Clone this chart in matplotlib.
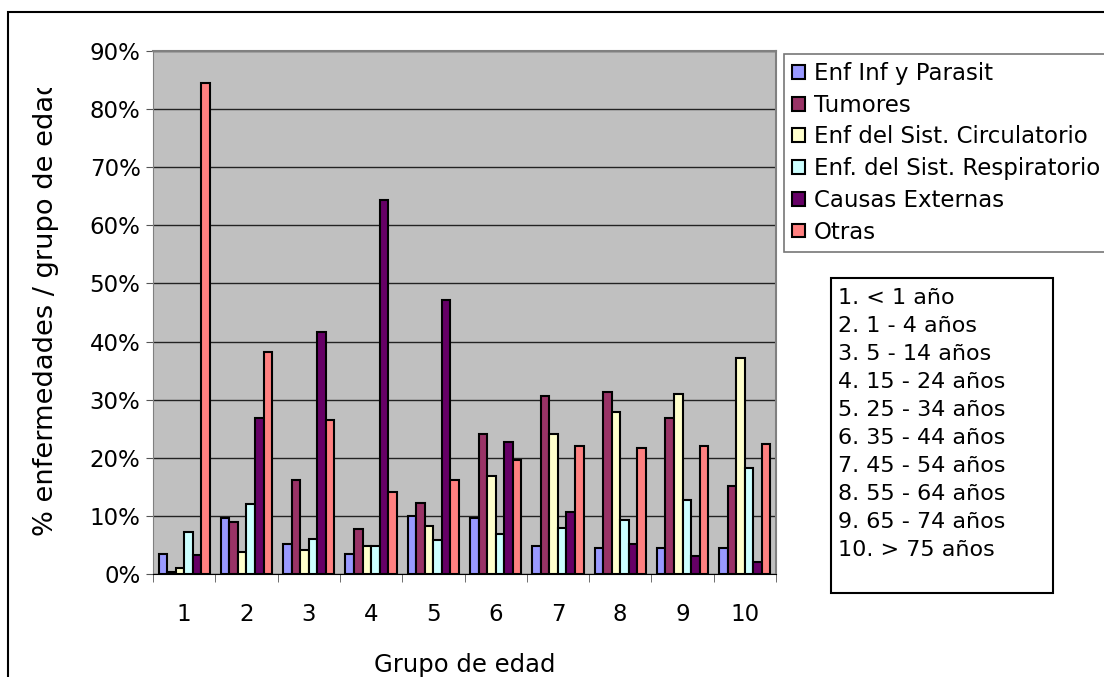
import matplotlib
matplotlib.use("Agg")
import matplotlib.pyplot as plt
import numpy as np
from matplotlib.patches import Patch, Rectangle
from matplotlib.transforms import Bbox
from matplotlib.ticker import FixedLocator, PercentFormatter

# Porcentaje de cada grupo de causas dentro de cada grupo de edad
GROUPS = ["1", "2", "3", "4", "5", "6", "7", "8", "9", "10"]
SERIES = [
    "Enf Inf y Parasit",
    "Tumores",
    "Enf del Sist. Circulatorio",
    "Enf. del Sist. Respiratorio",
    "Causas Externas",
    "Otras",
]
inf_parasit = [3.5, 9.7, 5.1, 3.4, 10.0, 9.7, 4.8, 4.5, 4.5, 4.5]
tumores = [0.3, 8.9, 16.1, 7.8, 12.3, 24.1, 30.6, 31.3, 26.9, 15.1]
circulatorio = [1.0, 3.7, 4.1, 4.9, 8.2, 16.9, 24.1, 27.9, 31.0, 37.2]
respiratorio = [7.2, 12.0, 6.1, 4.9, 5.8, 6.9, 7.9, 9.3, 12.7, 18.3]
externas = [3.3, 26.8, 41.6, 64.4, 47.2, 22.7, 10.6, 5.2, 3.1, 2.0]
otras = [84.5, 38.2, 26.5, 14.1, 16.1, 19.6, 22.0, 21.6, 22.0, 22.4]

AGE_KEY = [
    "1. < 1 año",
    "2. 1 - 4 años",
    "3. 5 - 14 años",
    "4. 15 - 24 años",
    "5. 25 - 34 años",
    "6. 35 - 44 años",
    "7. 45 - 54 años",
    "8. 55 - 64 años",
    "9. 65 - 74 años",
    "10. > 75 años",
]

COLORS = ["#9999FF", "#993366", "#FFFFCC", "#CCFFFF", "#660066", "#FF8080"]

W, H = 1104, 677
fig = plt.figure(figsize=(W / 100, H / 100), dpi=100)
plt.rcParams["font.family"] = ["DejaVu Sans"]


def fx(px):
    return px / W


def fy(py):
    return 1 - py / H


# outer chart frame
fig.patches.append(Rectangle((fx(8), fy(700)), fx(1200), fy(12) - fy(700),
                             transform=fig.transFigure, fill=False,
                             edgecolor="black", lw=1.5))

ax = fig.add_axes([fx(153), fy(574), fx(776 - 153), fy(51) - fy(574)])
ax.set_facecolor("#C0C0C0")

values = [inf_parasit, tumores, circulatorio, respiratorio, externas, otras]
x = np.arange(1, len(GROUPS) + 1)
bw = 0.137
for i, (vals, col) in enumerate(zip(values, COLORS)):
    ax.bar(x + (i - 2.5) * bw, vals, width=bw, color=col,
           edgecolor="black", linewidth=1.5, zorder=3)

ax.set_xlim(0.5, len(GROUPS) + 0.5)
ax.set_ylim(0, 90)
ax.set_yticks(np.arange(0, 91, 10))
ax.yaxis.set_major_formatter(PercentFormatter(decimals=0))
ax.grid(axis="y", color="#222222", lw=1, zorder=1)
ax.set_xticks(x)
ax.set_xticklabels(GROUPS)
ax.xaxis.set_minor_locator(FixedLocator(np.arange(0.5, len(GROUPS) + 1, 1)))
ax.tick_params(axis="x", which="major", length=0, pad=21, labelsize=16.5)
ax.tick_params(axis="x", which="minor", length=6, direction="out", color="#555555")
ax.tick_params(axis="y", length=5, direction="out", pad=4, labelsize=16.5, color="#555555")
for s in ["top", "right"]:
    ax.spines[s].set_color("#808080")
    ax.spines[s].set_linewidth(1.5)
ax.spines["left"].set_color("#808080")
ax.spines["bottom"].set_color("black")

fig.text(fx(465), fy(665), "Grupo de edad", ha="center", va="center", fontsize=17.5)

# the axis title is cut off at the top in the original chart
ylab = fig.text(fx(46), fy(307), "% enfermedades / grupo de edad", rotation=90,
                ha="center", va="center", fontsize=19.6)
ylab.set_clip_box(Bbox([[0, 0], [W, H - 88]]))
ylab.set_clip_on(True)

handles = [Patch(facecolor=c, edgecolor="black", lw=1.5) for c in COLORS]
leg = fig.legend(handles, SERIES, loc="upper left",
                 bbox_to_anchor=(fx(784), fy(54)), fontsize=16.5,
                 frameon=True, fancybox=False, edgecolor="#555555",
                 handlelength=0.55, handleheight=0.55, handletextpad=0.4,
                 labelspacing=0.38, borderpad=0.35, borderaxespad=0)
leg.get_frame().set_linewidth(1.2)

fig.patches.append(Rectangle((fx(831), fy(593)), fx(1053 - 831), fy(278) - fy(593),
                             transform=fig.transFigure, fill=False,
                             edgecolor="black", lw=1.5))
for k, line in enumerate(AGE_KEY):
    fig.text(fx(838), fy(298 + 28 * k), line, ha="left", va="center", fontsize=16)

fig.savefig("out.png", dpi=100)
